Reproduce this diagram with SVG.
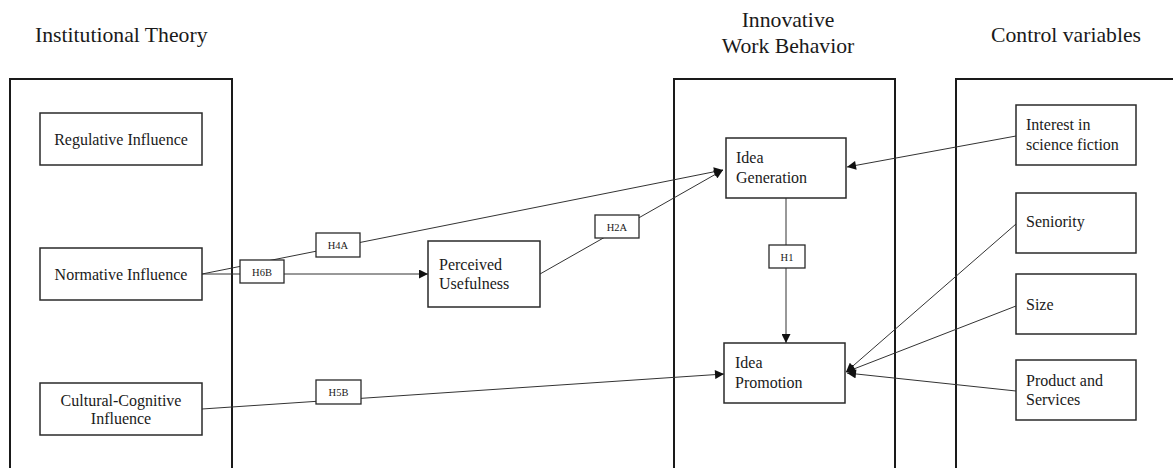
<svg xmlns="http://www.w3.org/2000/svg" width="1173" height="468" viewBox="0 0 1173 468">
<style>
text{font-family:"Liberation Serif","Times New Roman",serif;fill:#1a1a1a}
.title{font-size:21.7px}
.t{font-size:16px}
.lbl{font-size:10.5px}
.panel{fill:none;stroke:#1a1a1a;stroke-width:2}
.box{fill:#fff;stroke:#2a2a2a;stroke-width:1.5}
.lb{fill:#fff;stroke:#2a2a2a;stroke-width:1.3}
.c{fill:none;stroke:#333;stroke-width:1}
</style>
<defs>
<marker id="ah" viewBox="0 0 10 10" refX="10" refY="5" markerWidth="10" markerHeight="9" markerUnits="userSpaceOnUse" orient="auto">
<path d="M0,0 L10,5 L0,10 z" fill="#111"/>
</marker>
</defs>

<g id="titles">
<text class="title" x="35" y="42">Institutional Theory</text>
<text class="title" x="788" y="27" text-anchor="middle">Innovative</text>
<text class="title" x="788" y="53" text-anchor="middle">Work Behavior</text>
<text class="title" x="1066" y="42" text-anchor="middle">Control variables</text>
</g>

<g id="panels">
<path class="panel" d="M10,470 V79 H232 V470"/>
<path class="panel" d="M674,470 V79 H895 V470"/>
<path class="panel" d="M956,470 V79 H1175"/>
</g>

<g id="connectors">
<line class="c" x1="202" y1="274" x2="723" y2="170" marker-end="url(#ah)"/>
<line class="c" x1="202" y1="274" x2="428" y2="274" marker-end="url(#ah)"/>
<line class="c" x1="540" y1="274" x2="723" y2="170" marker-end="url(#ah)"/>
<line class="c" x1="202" y1="409" x2="724" y2="374" marker-end="url(#ah)"/>
<line class="c" x1="786" y1="198" x2="786" y2="343" marker-end="url(#ah)"/>
<line class="c" x1="1016" y1="136" x2="847" y2="167" marker-end="url(#ah)"/>
<line class="c" x1="1016" y1="224" x2="846" y2="372" marker-end="url(#ah)"/>
<line class="c" x1="1016" y1="306" x2="846" y2="372" marker-end="url(#ah)"/>
<line class="c" x1="1016" y1="391" x2="847" y2="373" marker-end="url(#ah)"/>
<g id="label-H4A"><rect class="lb" x="316" y="233" width="44" height="24"/><text class="lbl" x="338" y="249" text-anchor="middle">H4A</text></g>
<g id="label-H6B"><rect class="lb" x="240" y="260" width="44" height="23"/><text class="lbl" x="262" y="275.5" text-anchor="middle">H6B</text></g>
<g id="label-H2A"><rect class="lb" x="595" y="215" width="44" height="23"/><text class="lbl" x="617" y="230.5" text-anchor="middle">H2A</text></g>
<g id="label-H5B"><rect class="lb" x="316" y="380" width="45" height="24"/><text class="lbl" x="338.5" y="396" text-anchor="middle">H5B</text></g>
<g id="label-H1"><rect class="lb" x="769" y="245" width="36" height="23"/><text class="lbl" x="787" y="260.5" text-anchor="middle">H1</text></g>
</g>

<g id="regulative"><rect class="box" x="40" y="113" width="162" height="52"/><text class="t" x="121" y="145" text-anchor="middle">Regulative Influence</text></g>
<g id="normative"><rect class="box" x="40" y="248" width="162" height="52"/><text class="t" x="121" y="280" text-anchor="middle">Normative Influence</text></g>
<g id="cultural"><rect class="box" x="40" y="383" width="162" height="52"/><text class="t" x="121" y="406" text-anchor="middle">Cultural-Cognitive</text><text class="t" x="121" y="424" text-anchor="middle">Influence</text></g>
<g id="perceived"><rect class="box" x="428" y="241" width="112" height="66"/><text class="t" x="439" y="270">Perceived</text><text class="t" x="439" y="289">Usefulness</text></g>
<g id="idea-generation"><rect class="box" x="726" y="138" width="120" height="60"/><text class="t" x="736" y="163">Idea</text><text class="t" x="736" y="183">Generation</text></g>
<g id="idea-promotion"><rect class="box" x="724" y="343" width="121" height="60"/><text class="t" x="735" y="368">Idea</text><text class="t" x="735" y="388">Promotion</text></g>
<g id="interest"><rect class="box" x="1016" y="105" width="120" height="60"/><text class="t" x="1026" y="130">Interest in</text><text class="t" x="1026" y="150">science fiction</text></g>
<g id="seniority"><rect class="box" x="1016" y="193" width="120" height="60"/><text class="t" x="1026" y="227">Seniority</text></g>
<g id="size"><rect class="box" x="1016" y="274" width="120" height="60"/><text class="t" x="1026" y="310">Size</text></g>
<g id="product"><rect class="box" x="1016" y="360" width="120" height="60"/><text class="t" x="1026" y="386">Product and</text><text class="t" x="1026" y="405">Services</text></g>
</svg>
